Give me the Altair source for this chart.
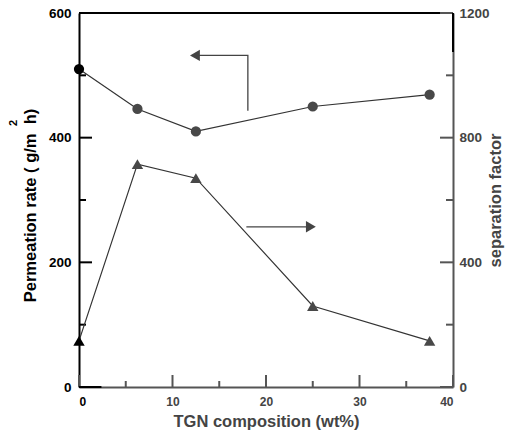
import altair as alt
import pandas as pd

# Data
composition = [0, 6.25, 12.5, 25, 37.5]
permeation = [510, 446, 410, 450, 469]
separation = [148, 715, 670, 260, 148]

# Annotation arrows (data coordinates, left scale)
arrow_left_x = [18.06, 18.06, 12.6]
arrow_left_y = [443, 532, 532]
arrow_left_head = (12.4, 532)
arrow_right_x = [17.9, 24.6]
arrow_right_y = [257, 257]
arrow_right_head = (24.8, 257)

# Tick values
x_major = [0, 10, 20, 30, 40]
x_minor = [5, 15, 25, 35]
yl_major = [0, 200, 400, 600]
yl_minor = [100, 300, 500]
yr_major = [0, 400, 800, 1200]
yr_minor = [200, 600, 1000]

W, H = 374, 374
FONT = "Liberation Sans"
GRAY = "#555555"
DGRAY = "#444444"
MARK = "#484848"
NB = "\u00a0"

perm_df = pd.DataFrame({"x": composition, "y": permeation})
sep_df = pd.DataFrame({"x": composition, "y": separation})

xscale = alt.Scale(domain=[0, 40], nice=False, zero=False)
ylscale = alt.Scale(domain=[0, 600], nice=False, zero=False)
yrscale = alt.Scale(domain=[0, 1200], nice=False, zero=False)

x_axis = alt.Axis(
    values=x_major, format="d", ticks=False, tickSize=0, grid=False,
    domainColor=GRAY, domainWidth=2,
    labelFont=FONT, labelFontWeight="bold", labelFontSize=12,
    labelColor={"condition": {"test": "datum.value == 0", "value": "black"}, "value": DGRAY},
    labelPadding=9,
    title="TGN composition (wt%)", titleFont=FONT, titleFontWeight="bold",
    titleFontSize=16.5, titleColor=DGRAY,
    titleX=187, titleY=39, titleBaseline="alphabetic", titleAlign="center",
)
xenc = alt.X("x:Q", scale=xscale, axis=x_axis)

yl_axis = alt.Axis(
    values=yl_major, format="d", ticks=False, tickSize=0, grid=False,
    domainColor="black", domainWidth=2,
    labelFont=FONT, labelFontWeight="bold", labelFontSize=13.5, labelColor="black",
    labelPadding=8,
    title=f"Permeation rate ({NB}g/m{NB}{NB}h)", titleFont=FONT, titleFontWeight="bold",
    titleFontSize=16.5, titleColor="black", titleAngle=270,
    titleX=-49, titleY=192, titleBaseline="middle", titleAlign="center",
)
ylenc = alt.Y("y:Q", scale=ylscale, axis=yl_axis)

yr_axis = alt.Axis(
    orient="right", values=yr_major, format="d", ticks=False, tickSize=0, grid=False,
    domainColor=GRAY, domainWidth=2,
    labelFont=FONT, labelFontWeight="bold", labelFontSize=13.5, labelColor=DGRAY,
    labelPadding=6,
    title="separation factor", titleFont=FONT, titleFontWeight="bold",
    titleFontSize=16.5, titleColor=DGRAY, titleAngle=270,
    titleX=47.5, titleY=187, titleBaseline="alphabetic", titleAlign="center",
)
yrenc = alt.Y("y:Q", scale=yrscale, axis=yr_axis)

ylplain = alt.Y("y:Q", scale=ylscale, axis=yl_axis)
xplain = alt.X("x:Q", scale=xscale, axis=x_axis)

mark_color = alt.condition("datum.x == 0", alt.value("black"), alt.value(MARK))

# Left group ---------------------------------------------------------------
perm_line = alt.Chart(perm_df).mark_line(color="#333333", strokeWidth=1.2).encode(x=xenc, y=ylenc)
perm_pts = alt.Chart(perm_df).mark_point(shape="circle", filled=True, size=105, opacity=1).encode(
    x=xenc, y=ylenc, color=mark_color)

arrL = pd.DataFrame({"x": arrow_left_x, "y": arrow_left_y, "o": [0, 1, 2]})
arrL_line = alt.Chart(arrL).mark_line(color=DGRAY, strokeWidth=1.3).encode(
    x=xplain, y=ylplain, order="o:Q")
arrL_head = alt.Chart(pd.DataFrame({"x": [arrow_left_head[0]], "y": [arrow_left_head[1]]})).mark_point(
    shape="triangle-left", filled=True, size=130, opacity=1, color=DGRAY).encode(x=xplain, y=ylplain)
arrR = pd.DataFrame({"x": arrow_right_x, "y": arrow_right_y})
arrR_line = alt.Chart(arrR).mark_line(color=DGRAY, strokeWidth=1.3).encode(x=xplain, y=ylplain)
arrR_head = alt.Chart(pd.DataFrame({"x": [arrow_right_head[0]], "y": [arrow_right_head[1]]})).mark_point(
    shape="triangle-right", filled=True, size=130, opacity=1, color=DGRAY).encode(x=xplain, y=ylplain)

ticks_l = alt.layer(
    alt.Chart(pd.DataFrame({"y": yl_major})).mark_rule(color="black", strokeWidth=2).encode(
        y=ylplain, x=alt.value(0), x2=alt.value(13)),
    alt.Chart(pd.DataFrame({"y": yl_minor})).mark_rule(color="black", strokeWidth=2).encode(
        y=ylplain, x=alt.value(0), x2=alt.value(7)),
)
ticks_x = alt.layer(
    alt.Chart(pd.DataFrame({"x": x_major})).mark_rule(color=GRAY, strokeWidth=2).encode(
        x=xplain, y=alt.value(H), y2=alt.value(H - 12)),
    alt.Chart(pd.DataFrame({"x": x_minor})).mark_rule(color=GRAY, strokeWidth=2).encode(
        x=xplain, y=alt.value(H), y2=alt.value(H - 6)),
)
x_black = alt.Chart(pd.DataFrame({"x": [0], "x2": [2.4]})).mark_rule(color="black", strokeWidth=2).encode(
    x=xplain, x2="x2:Q", y=alt.value(H))
top_border = alt.Chart(pd.DataFrame({"a": [0]})).mark_rule(color="black", strokeWidth=2).encode(
    x=alt.value(0), x2=alt.value(W), y=alt.value(0))
sup2 = alt.Chart(pd.DataFrame({"t": ["2"]})).mark_text(
    font=FONT, fontWeight="bold", fontSize=11, angle=270, color="black",
    align="center", baseline="middle").encode(x=alt.value(-65), y=alt.value(110), text="t:N")

left = alt.layer(perm_line, ticks_l, ticks_x, x_black, top_border, arrL_line, arrL_head,
                 arrR_line, arrR_head, perm_pts, sup2)

# Right group --------------------------------------------------------------
yrplain = alt.Y("y:Q", scale=yrscale, axis=yr_axis)
sep_line = alt.Chart(sep_df).mark_line(color="#333333", strokeWidth=1.2).encode(x=xenc, y=yrenc)
sep_pts = alt.Chart(sep_df).mark_point(shape="triangle-up", filled=True, size=130, opacity=1).encode(
    x=xenc, y=yrenc, color=mark_color)
ticks_r = alt.layer(
    alt.Chart(pd.DataFrame({"y": yr_major})).mark_rule(color=GRAY, strokeWidth=2).encode(
        y=yrplain, x=alt.value(W), x2=alt.value(W - 13)),
    alt.Chart(pd.DataFrame({"y": yr_minor})).mark_rule(color=GRAY, strokeWidth=2).encode(
        y=yrplain, x=alt.value(W), x2=alt.value(W - 7)),
)
r_black = alt.Chart(pd.DataFrame({"y": [1200], "y2": [1075]})).mark_rule(color="black", strokeWidth=2).encode(
    y=yrplain, y2="y2:Q", x=alt.value(W))
right = alt.layer(sep_line, ticks_r, r_black, sep_pts)

chart = alt.layer(left, right).resolve_scale(y="independent").properties(
    width=W, height=H,
    autosize=alt.AutoSizeParams(type="none"),
    padding={"left": 79, "top": 13, "right": 56, "bottom": 45},
).configure_view(stroke=None).configure(background="white")

chart.save("out.html", embed_options={"renderer": "svg", "actions": False})
